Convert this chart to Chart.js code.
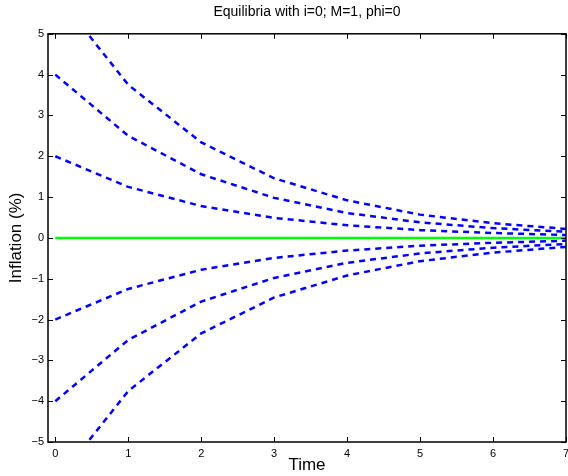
<!DOCTYPE html>
<html>
<head>
<meta charset="utf-8">
<script src="https://cdn.jsdelivr.net/npm/chart.js@4.4.1/dist/chart.umd.min.js"></script>
<style>
    html, body { margin: 0; padding: 0; background: #fff; }
    #wrap { width: 568px; height: 476px; }
</style>
</head>
<body>
<div id="wrap"><canvas id="equilibria-chart"></canvas></div>
<script>
// data
const timeSteps = [0, 1, 2, 3, 4, 5, 6, 7];
const pathUp6 = [6, 3.75, 2.34, 1.46, 0.92, 0.57, 0.36, 0.22];
const pathUp4 = [4, 2.5, 1.56, 0.98, 0.61, 0.38, 0.24, 0.15];
const pathUp2 = [2, 1.25, 0.78, 0.49, 0.31, 0.19, 0.12, 0.07];
const pathDown2 = [-2, -1.25, -0.78, -0.49, -0.31, -0.19, -0.12, -0.07];
const pathDown4 = [-4, -2.5, -1.56, -0.98, -0.61, -0.38, -0.24, -0.15];
const pathDown6 = [-6, -3.75, -2.34, -1.46, -0.92, -0.57, -0.36, -0.22];
const steadyState = [0, 0, 0, 0, 0, 0, 0, 0];
const xTickValues = [0, 1, 2, 3, 4, 5, 6, 7];
const yTickValues = [-5, -4, -3, -2, -1, 0, 1, 2, 3, 4, 5];

const FONT = "'Liberation Sans', Arial, Helvetica, sans-serif";

function toPoints(ys) {
    return ys.map((y, i) => ({ x: timeSteps[i], y: y }));
}

function dashedPath(ys) {
    return {
        data: toPoints(ys),
        borderColor: "#0000ff",
        borderWidth: 2.5,
        borderDash: [6, 5],
        pointRadius: 0,
        fill: false,
        tension: 0,
    };
}

// inward ticks + box, matlab style
const boxTicks = {
    id: "boxTicks",
    afterDatasetsDraw(chart) {
        const { ctx, chartArea: a, scales } = chart;
        const len = 5;
        ctx.save();
        ctx.strokeStyle = "#000";
        ctx.lineWidth = 1;
        ctx.beginPath();
        xTickValues.forEach((v) => {
            const px = Math.round(scales.x.getPixelForValue(v)) + 0.5;
            ctx.moveTo(px, a.bottom);
            ctx.lineTo(px, a.bottom - len);
            ctx.moveTo(px, a.top);
            ctx.lineTo(px, a.top + len);
        });
        yTickValues.forEach((v) => {
            const py = Math.round(scales.y.getPixelForValue(v)) + 0.5;
            ctx.moveTo(a.left, py);
            ctx.lineTo(a.left + len, py);
            ctx.moveTo(a.right, py);
            ctx.lineTo(a.right - len, py);
        });
        ctx.stroke();
        ctx.lineWidth = 1.5;
        ctx.strokeRect(a.left, a.top, a.right - a.left, a.bottom - a.top);
        ctx.restore();
    },
};

// config
const configEquilibria = {
    type: "line",
    data: {
        datasets: [
            dashedPath(pathUp6),
            dashedPath(pathUp4),
            dashedPath(pathUp2),
            dashedPath(pathDown2),
            dashedPath(pathDown4),
            dashedPath(pathDown6),
            {
                data: toPoints(steadyState),
                borderColor: "#00ff00",
                borderWidth: 2.5,
                pointRadius: 0,
                fill: false,
            },
        ],
    },
    options: {
        responsive: true,
        maintainAspectRatio: false,
        animation: false,
        layout: { padding: { left: 0, right: 2, top: 0, bottom: 0 } },
        plugins: {
            legend: { display: false },
            tooltip: { enabled: false },
            title: {
                display: true,
                text: "Equilibria with i=0; M=1, phi=0",
                color: "#000",
                fullSize: false,
                font: { family: FONT, size: 14, weight: "normal" },
                padding: { top: 4, bottom: 13 },
            },
        },
        scales: {
            x: {
                type: "linear",
                min: -0.1,
                max: 7,
                afterBuildTicks(scale) {
                    scale.ticks = xTickValues.map((v) => ({ value: v }));
                },
                afterFit(scale) {
                    scale.height = 34;
                    scale.paddingLeft = 0;
                    scale.paddingRight = 0;
                },
                border: { display: false },
                grid: { display: false, drawTicks: false },
                ticks: {
                    color: "#000",
                    padding: 5,
                    maxRotation: 0,
                    autoSkip: false,
                    font: { family: FONT, size: 11 },
                },
                title: {
                    display: true,
                    text: "Time",
                    color: "#000",
                    font: { family: FONT, size: 17 },
                    padding: { top: 0, bottom: 0 },
                },
            },
            y: {
                min: -5,
                max: 5,
                afterBuildTicks(scale) {
                    scale.ticks = yTickValues.map((v) => ({ value: v }));
                },
                afterFit(scale) {
                    scale.width = 48;
                },
                border: { display: false },
                grid: { display: false, drawTicks: false },
                ticks: {
                    color: "#000",
                    padding: 4,
                    autoSkip: false,
                    font: { family: FONT, size: 11 },
                    callback: function (value) {
                        return value < 0 ? "\u2212" + Math.abs(value) : String(value);
                    },
                },
                title: {
                    display: true,
                    text: "Inflation (%)",
                    color: "#000",
                    font: { family: FONT, size: 17 },
                    padding: { top: 6, bottom: 0 },
                },
            },
        },
    },
    plugins: [boxTicks],
};

// render
const ctx = document.getElementById("equilibria-chart");
new Chart(ctx, configEquilibria);
</script>
</body>
</html>
